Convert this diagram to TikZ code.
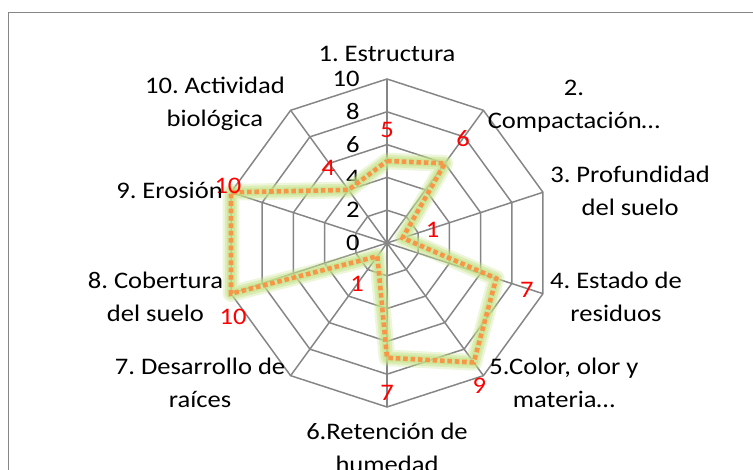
\documentclass[tikz,border=0pt]{standalone}
\usepackage{fontspec}
\setmainfont{Carlito}[FakeStretch=1.12]
\usepackage{tikz}
\usetikzlibrary{calc}
\definecolor{gridgray}{RGB}{134,134,134}
\definecolor{dataorange}{RGB}{247,150,70}
\definecolor{glowgreen}{RGB}{196,226,135}
\newcommand\chartfont{\fontsize{13.5pt}{18.7pt}\selectfont}
\frenchspacing
\tikzset{
    gridline/.style = {draw=gridgray, line width=0.85pt},
    glow/.style = {draw=glowgreen, line join=round, line cap=round},
    dataline/.style = {draw=dataorange, line width=2.6pt, dash pattern=on 2.6pt off 1.6pt},
}
\tikzset{
    catlabel/.style={font=\chartfont, align=center, inner sep=0pt},
    ticklabel/.style={font=\chartfont, anchor=east, inner sep=0pt},
    datalabel/.style={font=\chartfont, text=red, inner sep=0pt},
}

\begin{document}
\begin{tikzpicture}[x=0.328cm,y=0.328cm]
    \useasboundingbox (-23.598,-13.841) rectangle (22.317,14.817);
    \draw[gridline] (-23.07,-13.841) -- (-23.07,14.04) -- (22.317,14.04);
    % web
    \foreach \r in {2,4,...,10}
        \draw[gridline] (90:\r) \foreach \i in {1,...,9} {-- (90-36*\i:\r)} -- cycle;
    \foreach \i in {0,...,9}
        \draw[gridline] (0,0) -- (90-36*\i:10);
    \foreach \r in {0,2,...,10}
        \node[ticklabel] (tick\r) at (-1.65,\r) {\r};
    % series
    \foreach \v [count=\i] in {5,6,1,7,9,7,1,10,10,4}
        \coordinate (p\i) at ({90-36*(\i-1)}:\v);
    \draw[glow, line width=9.5pt, opacity=.3] (p1) \foreach \i in {2,...,10} {-- (p\i)} -- cycle;
    \draw[glow, line width=7pt, opacity=.45] (p1) \foreach \i in {2,...,10} {-- (p\i)} -- cycle;
    \draw[glow, line width=4.5pt, opacity=.55] (p1) \foreach \i in {2,...,10} {-- (p\i)} -- cycle;
    \draw[dataline] (p1) \foreach \i in {2,...,10} {-- (p\i)} -- cycle;
    \foreach \t/\a/\r [count=\i] in {5/90/6.9, 6/54/7.9, 1/16/2.9, 7/-18.6/9.0, 9/-57/10.35,
            7/-90/9.15, 1/-126/3.1, 10/-154.3/10.42, 10/160.3/10.3, 4/128/5.82}
        \node[datalabel] (val\i) at (\a:\r) {\t};
    % categories
    \node[catlabel] (cat1) at (0,11.52) {1. Estructura};
    \node[catlabel] (cat2) at (11.40,8.35) {2.\\Compactación…};
    \node[catlabel] (cat3) at (14.82,3.20) {3. Profundidad\\del suelo};
    \node[catlabel] (cat4) at (13.96,-3.26) {4. Estado de\\residuos};
    \node[catlabel] (cat5) at (10.79,-8.51) {5.Color, olor y\\materia…};
    \node[catlabel] (cat6) at (0,-12.5) {6.Retención de\\humedad};
    \node[catlabel] (cat7) at (-11.40,-8.51) {7. Desarrollo de\\raíces};
    \node[catlabel] (cat8) at (-14.12,-3.26) {8. Cobertura\\del suelo};
    \node[catlabel] (cat9) at (-13.26,3.23) {9. Erosión};
    \node[catlabel] (cat10) at (-10.49,8.51) {10. Actividad\\biológica};
\end{tikzpicture}
\end{document}
